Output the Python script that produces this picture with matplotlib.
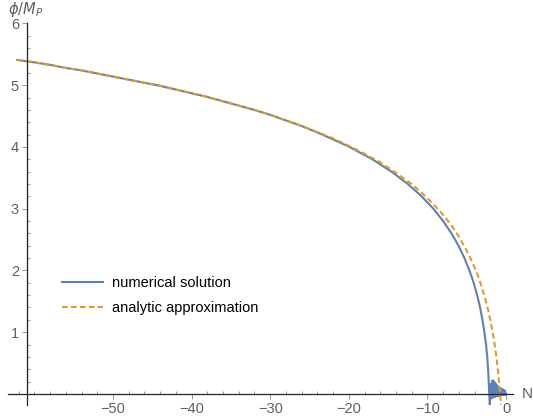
import matplotlib
matplotlib.use('Agg')
import matplotlib.pyplot as plt
from matplotlib.ticker import MultipleLocator, FixedLocator

# early part, where both curves coincide (N, phi/M_P)
early_N = [-62.2, -60, -58, -56, -54, -52, -50, -48, -46, -44, -42, -40,
           -38, -36, -34, -32, -30, -28, -26]
early_phi = [5.41, 5.37, 5.33, 5.28, 5.24, 5.19, 5.14, 5.09, 5.04, 4.99,
             4.93, 4.87, 4.81, 4.74, 4.67, 4.60, 4.52, 4.43, 4.34]

# numerical solution, late part
num_N = [-23.35, -19.9, -17.0, -14.57, -12.49, -10.73, -9.25, -8.0, -6.93,
         -6.04, -5.29, -4.66, -4.11, -3.67, -3.30, -3.00, -2.75, -2.54,
         -2.39, -2.28, -2.20, -2.13, -2.06]
num_phi = [4.2, 4.0, 3.8, 3.6, 3.4, 3.2, 3.0, 2.8, 2.6, 2.4, 2.2, 2.0, 1.8,
           1.6, 1.4, 1.2, 1.0, 0.8, 0.6, 0.4, 0.2, 0.0, -0.19]

# oscillations after the end of inflation (peaks and troughs)
peak_N = [-1.92, -1.78, -1.64, -1.50, -1.36, -1.22, -1.08, -0.94, -0.80,
          -0.66, -0.52, -0.38, -0.24, -0.12]
peak_phi = [0.16, 0.21, 0.22, 0.19, 0.17, 0.15, 0.13, 0.11, 0.10, 0.09,
            0.08, 0.07, 0.06, 0.05]
trough_N = [-1.85, -1.71, -1.57, -1.43, -1.29, -1.15, -1.01, -0.87, -0.73,
            -0.59, -0.45, -0.31, -0.18, -0.06]
trough_phi = [-0.07, -0.06, -0.05, -0.05, -0.04, -0.04, -0.03, -0.03, -0.03,
              -0.02, -0.02, -0.02, -0.01, -0.01]

# analytic approximation, late part
ana_N = [-24, -22, -20, -18, -16, -14, -12, -11, -10, -9, -8, -7, -6, -5,
         -4.5, -4, -3.5, -3, -2.5, -2.25, -2, -1.8, -1.6, -1.4, -1.2, -1.0,
         -0.9, -0.8, -0.75, -0.7, -0.64]
ana_phi = [4.24, 4.14, 4.02, 3.89, 3.75, 3.58, 3.40, 3.29, 3.17, 3.04, 2.90,
           2.74, 2.55, 2.32, 2.19, 2.05, 1.89, 1.70, 1.47, 1.35, 1.20, 1.07,
           0.93, 0.76, 0.58, 0.35, 0.22, 0.08, 0.0, -0.08, -0.19]

BLUE = '#5E81B5'
ORANGE = '#E19C24'
GRAY = '#5f5f5f'

plt.rcParams['font.family'] = ['Liberation Sans', 'DejaVu Sans']

W, H = 533, 416
fig = plt.figure(figsize=(W / 100, H / 100), dpi=100)
ax = fig.add_axes([8 / W, 1 - 405 / H, 505 / W, (405 - 23.5) / H])

# join the decay with the oscillation tail
osc_N, osc_phi = [], []
for pn, pp, tn, tp in zip(peak_N, peak_phi, trough_N, trough_phi):
    osc_N += [pn, tn]
    osc_phi += [pp, tp]
osc_N.append(0.0)
osc_phi.append(0.0)

ax.plot(early_N + num_N + osc_N, early_phi + num_phi + osc_phi, color=BLUE,
        lw=1.5, label='numerical solution')
ax.plot(early_N + ana_N, early_phi + ana_phi, color=ORANGE, lw=1.5,
        ls=(0, (2.7, 1.6)), label='analytic approximation')

ax.set_xlim(-63.36, 0.89)
ax.set_ylim(-0.18, 6)

# Mathematica-style axes crossing at (-61, 0)
for s in ['top', 'right']:
    ax.spines[s].set_visible(False)
ax.spines['left'].set_position(('data', -61))
ax.spines['bottom'].set_position(('data', 0))
for s in ['left', 'bottom']:
    ax.spines[s].set_color('#222222')
    ax.spines[s].set_linewidth(0.9)

ax.xaxis.set_major_locator(FixedLocator([-50, -40, -30, -20, -10, 0]))
ax.xaxis.set_minor_locator(MultipleLocator(2))
ax.yaxis.set_major_locator(FixedLocator([1, 2, 3, 4, 5, 6]))
ax.yaxis.set_minor_locator(MultipleLocator(0.2))
ax.tick_params(which='major', direction='out', length=3.5, width=0.6,
               color='#888888', labelcolor=GRAY, labelsize=10.5)
ax.tick_params(which='minor', direction='in', length=2.5, width=0.6,
               color='#888888')
ax.tick_params(axis='x', which='major', pad=2)
ax.tick_params(axis='y', which='major', pad=2)

fig.text(25.5 / W, 1 - 9.5 / H, r'$\phi/M_P$', color=GRAY, fontsize=10.5,
         ha='center', va='center')
fig.text(522 / W, 1 - 393.7 / H, 'N', color=GRAY, fontsize=11,
         ha='left', va='center')

ax.legend(loc='upper left', bbox_to_anchor=(62 / W, 1 - 276 / H),
          bbox_transform=fig.transFigure, frameon=False, fontsize=10.5,
          handlelength=2.8, handletextpad=0.66, labelspacing=0.75,
          borderpad=0, borderaxespad=0)

fig.savefig('out.png', dpi=100)
